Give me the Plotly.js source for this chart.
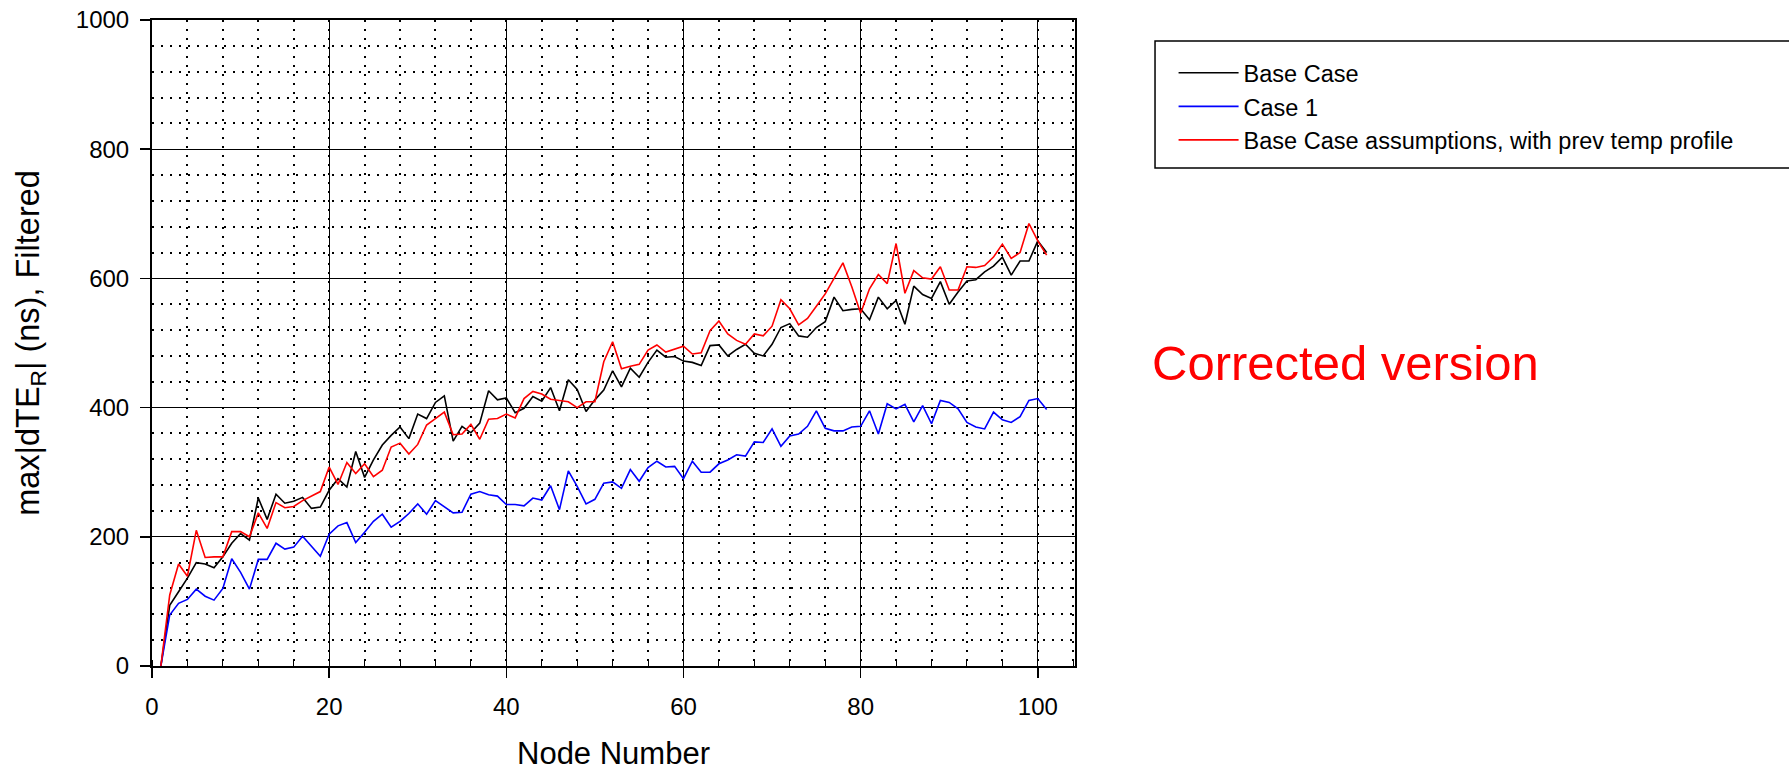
<!DOCTYPE html>
<html>
<head>
<meta charset="utf-8">
<script src="https://cdn.plot.ly/plotly-3.0.1.min.js"></script>
<style>html,body{margin:0;padding:0;background:#fff;}#chart{width:1789px;height:771px;}</style>
</head>
<body>
<div id="chart"></div>
<script>
const nodes = Array.from({length: 101}, (_, i) => i + 1);

const baseCase = [0,94,115,136,160,158,152,169,190,205,195,260,227,266,252,255,261,244,246,272,
290,277,332,292,319,342,357,370,352,390,383,408,418,348,371,361,376,426,412,415,
392,399,417,410,431,395,443,428,394,412,427,457,432,461,447,470,489,478,479,472,
470,465,496,497,480,490,498,484,480,498,524,530,511,509,524,533,571,550,552,553,
536,571,553,566,529,588,575,569,595,560,579,596,598,610,619,633,605,627,627,658,640];

const case1 = [0,79,97,103,119,108,102,120,166,145,119,165,165,190,181,184,201,186,170,204,
217,222,191,207,224,235,215,224,236,251,235,256,247,237,238,266,270,265,263,250,
250,248,260,257,279,242,302,278,251,258,283,285,275,304,286,307,317,308,309,290,
317,300,300,313,319,327,325,347,346,367,340,356,359,371,395,368,364,364,370,371,
395,359,406,398,405,378,403,375,411,408,398,377,370,367,393,381,377,386,411,414,397];

const prevTemp = [0,110,158,139,210,168,169,169,208,208,200,237,213,253,245,247,256,263,270,308,
281,315,298,313,293,303,339,345,328,343,373,383,393,358,359,374,351,382,383,390,
384,414,425,421,413,411,409,400,409,409,471,502,460,464,467,489,497,486,490,495,
483,485,519,534,514,504,498,514,511,526,567,553,528,538,557,576,600,624,587,546,
584,606,592,654,577,612,601,599,618,582,582,618,617,620,633,653,631,640,685,658,636];

const seriesNames = ["Base Case", "Case 1", "Base Case assumptions, with prev temp profile"];
const seriesColors = ["#000000", "#0000ff", "#ff0000"];
const seriesData = [baseCase, case1, prevTemp];

const FONT = "Liberation Sans, Arial, sans-serif";

const traces = seriesData.map((vals, i) => ({
  x: nodes, y: vals, type: "scatter", mode: "lines",
  name: seriesNames[i],
  line: {color: seriesColors[i], width: 1.6}
}));

const layout = {
  width: 1789, height: 771,
  margin: {l: 152, r: 714, t: 20, b: 105},
  paper_bgcolor: "#ffffff", plot_bgcolor: "#ffffff",
  font: {family: FONT, size: 24, color: "#000"},
  showlegend: true,
  legend: {
    x: 1.1068, y: 0.952, xanchor: "left", yanchor: "top",
    bgcolor: "rgba(0,0,0,0)", borderwidth: 0,
    font: {family: FONT, size: 23.5, color: "#000"},
    itemwidth: 60, tracegroupgap: 0
  },
  xaxis: {
    range: [0, 104.2], dtick: 20, tick0: 0,
    showgrid: true, gridcolor: "#000", gridwidth: 1,
    zeroline: false, showline: true, linecolor: "#000", linewidth: 2, mirror: true,
    ticks: "outside", ticklen: 10, tickwidth: 1.5, tickcolor: "#000",
    ticklabelstandoff: 8,
    tickfont: {family: FONT, size: 24},
    minor: {dtick: 4, showgrid: true, gridcolor: "#000", gridwidth: 2, griddash: "2px,7px",
            ticks: "inside", ticklen: 6, tickwidth: 1, tickcolor: "#000"},
    title: {text: "Node Number", font: {family: FONT, size: 31}, standoff: 26}
  },
  yaxis: {
    range: [0, 1000], dtick: 200, tick0: 0,
    showgrid: true, gridcolor: "#000", gridwidth: 1,
    zeroline: false, showline: true, linecolor: "#000", linewidth: 2, mirror: true,
    ticks: "outside", ticklen: 10, tickwidth: 1.5, tickcolor: "#000",
    ticklabelstandoff: 6,
    tickfont: {family: FONT, size: 24},
    minor: {dtick: 40, showgrid: true, gridcolor: "#000", gridwidth: 2, griddash: "2px,7px"},
    title: {text: "max|dTE<sub>R</sub>| (ns), Filtered", font: {family: FONT, size: 32.5}, standoff: 26}
  },
  shapes: [{
    type: "rect", xref: "paper", yref: "paper",
    x0: 1.0867, x1: 1.79, y0: 0.7709, y1: 0.9675,
    line: {color: "#000", width: 1.5}, fillcolor: "rgba(0,0,0,0)"
  }],
  annotations: [{
    text: "Corrected version", xref: "paper", yref: "paper",
    x: 1.081, y: 0.469, xanchor: "left", yanchor: "middle", showarrow: false,
    font: {family: FONT, size: 49, color: "#ff0000"}
  }]
};

Plotly.newPlot("chart", traces, layout, {displayModeBar: false, staticPlot: true});
</script>
</body>
</html>
